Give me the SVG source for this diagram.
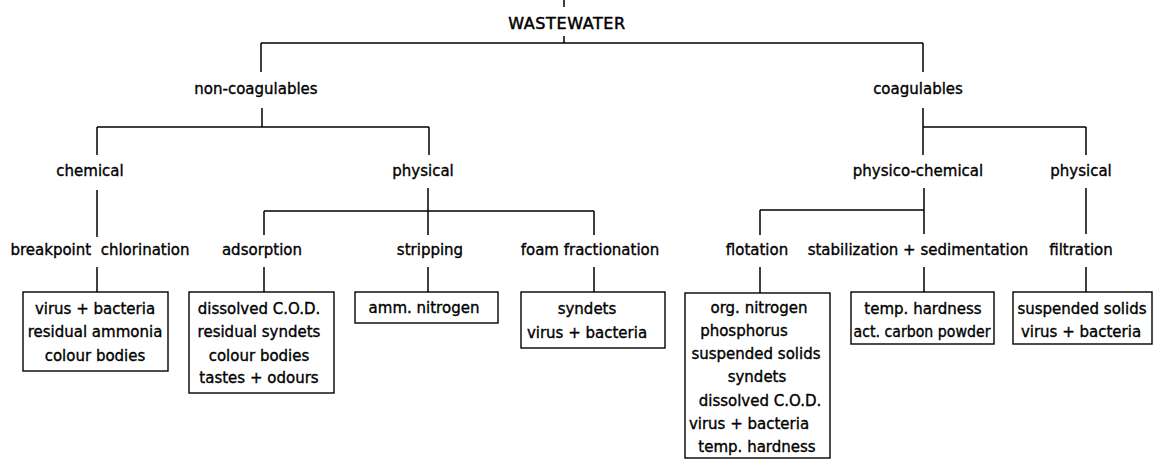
<svg xmlns="http://www.w3.org/2000/svg" width="1156" height="461" viewBox="0 0 1156 461">
<style>
text{font-family:"DejaVu Sans","Liberation Sans",sans-serif;font-size:15px;fill:#000;stroke:#000;stroke-width:0.35;text-anchor:middle}
.t{font-size:16px;letter-spacing:0.6px;stroke-width:0.5}
.c path{stroke:#000;stroke-width:1.5;fill:none}
rect{fill:#fff;stroke:#000;stroke-width:1.4}
</style>
<rect x="0" y="0" width="1156" height="461" style="fill:#fff;stroke:none"/>
<g id="connectors" class="c">
<path d="M564 0V7M564 36V43M261 43H923M261 43V72M923 43V72"/>
<path d="M262 108V127M97 127H429M97 127V155M429 127V155"/>
<path d="M923 108V155M923 127H1086M1086 127V155"/>
<path d="M97 190V237M428 188V235M264 211H594M264 211V235M594 211V235"/>
<path d="M924 188V234M760 210H924M760 210V235M1086 188V234"/>
<path d="M97 267V292M264 267V292M428 267V292M594 267V292M760 267V293M924 267V292M1086 267V292"/>
</g>
<g id="wastewater"><text class="t" x="567" y="29">WASTEWATER</text></g>
<g id="noncoag"><text x="256" y="94">non-coagulables</text></g>
<g id="coag"><text x="918" y="94">coagulables</text></g>
<g id="chemical"><text x="90" y="176">chemical</text></g>
<g id="physical1"><text x="423" y="176">physical</text></g>
<g id="physicochemical"><text x="918" y="176">physico-chemical</text></g>
<g id="physical2"><text x="1081" y="176">physical</text></g>
<g id="breakpoint"><text x="100" y="255" xml:space="preserve">breakpoint  chlorination</text></g>
<g id="adsorption"><text x="262" y="255">adsorption</text></g>
<g id="stripping"><text x="430" y="255">stripping</text></g>
<g id="foam"><text x="590" y="255">foam fractionation</text></g>
<g id="flotation"><text x="757" y="255">flotation</text></g>
<g id="stabilization"><text x="918" y="255">stabilization + sedimentation</text></g>
<g id="filtration"><text x="1081" y="255">filtration</text></g>
<g id="box1"><rect x="23" y="292" width="145" height="79"/>
<text x="95" y="314">virus + bacteria</text><text x="95" y="337">residual ammonia</text><text x="95" y="361">colour bodies</text></g>
<g id="box2"><rect x="189" y="292" width="145" height="101"/>
<text x="259" y="314">dissolved C.O.D.</text><text x="259" y="337">residual syndets</text><text x="259" y="361">colour bodies</text><text x="259" y="383">tastes + odours</text></g>
<g id="box3"><rect x="355" y="292" width="143" height="31"/>
<text x="424" y="313">amm. nitrogen</text></g>
<g id="box4"><rect x="521" y="292" width="144" height="56"/>
<text x="587" y="314">syndets</text><text x="587" y="338">virus + bacteria</text></g>
<g id="box5"><rect x="685" y="293" width="145" height="165"/>
<text x="759" y="313">org. nitrogen</text><text x="744" y="336">phosphorus</text><text x="756" y="359">suspended solids</text><text x="757" y="382">syndets</text><text x="760" y="406">dissolved C.O.D.</text><text x="749" y="429">virus + bacteria</text><text x="757" y="452">temp. hardness</text></g>
<g id="box6"><rect x="851" y="292" width="143" height="52"/>
<text x="923" y="314">temp. hardness</text><text x="922" y="337" textLength="137" lengthAdjust="spacingAndGlyphs">act. carbon powder</text></g>
<g id="box7"><rect x="1013" y="292" width="139" height="52"/>
<text x="1082" y="314">suspended solids</text><text x="1081" y="337">virus + bacteria</text></g>
</svg>
